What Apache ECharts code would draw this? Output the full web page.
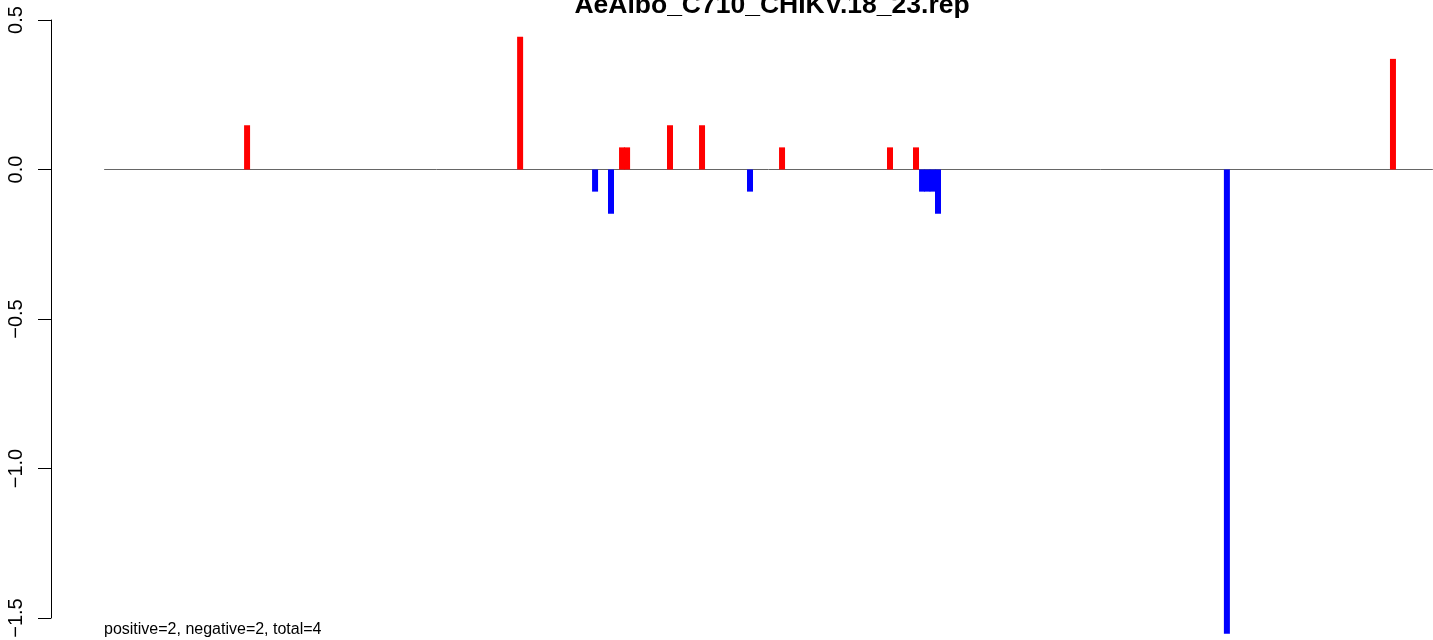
<!DOCTYPE html>
<html>
<head>
<meta charset="utf-8">
<script src="https://cdn.jsdelivr.net/npm/echarts@6/dist/echarts.min.js"></script>
<style>
html,body{margin:0;padding:0;background:#fff;}
#chart{width:1433px;height:640px;}
</style>
</head>
<body>
<div id="chart"></div>
<script>
// Genome length (nt) and observed positions/values
const genomeLength = 11826;
const positions = [1273, 3703, 4370, 4512, 4610, 4655, 5037, 5322, 5749, 6034, 6995, 7226, 7280, 7327, 7374, 7422, 9993, 11471];
const values    = [0.148, 0.444, -0.074, -0.148, 0.074, 0.074, 0.148, 0.148, -0.074, 0.074, 0.074, 0.074, -0.074, -0.074, -0.074, -0.148, -1.553, 0.370];
const yTicks = [-1.5, 0.5, 0.5]; // min, max, interval
const titleText = 'AeAlbo_C710_CHIKV.18_23.rep';
const footText = 'positive=2, negative=2, total=4';

const pad = 0.04 * (genomeLength - 1);
const barData = positions.map((p, i) => [p, values[i]]);

const chart = echarts.init(document.getElementById('chart'), null, {renderer: 'canvas'});
const FONT = '"Liberation Sans", Arial, Helvetica, sans-serif';
chart.setOption({
  animation: false,
  backgroundColor: '#ffffff',
  title: {
    text: titleText,
    left: 767, top: -13,
    textAlign: 'center',
    textStyle: {fontFamily: FONT, fontWeight: 'bold', fontSize: 26.5, color: '#000'}
  },
  grid: {left: 51, right: -53, top: 20, bottom: 22, containLabel: false, outerBoundsMode: 'none'},
  xAxis: {
    type: 'value', min: 1 - pad, max: genomeLength + pad, show: false
  },
  yAxis: {
    type: 'value', min: yTicks[0], max: yTicks[1], interval: yTicks[2],
    axisLine: {show: true, onZero: false, lineStyle: {color: '#000', width: 1}},
    axisTick: {show: true, length: 13, lineStyle: {color: '#000', width: 1}},
    splitLine: {show: false},
    axisLabel: {
      rotate: 90, margin: 25, color: '#000', fontSize: 20, fontFamily: FONT,
      formatter: v => (v < 0 ? '\u2212' : '') + Math.abs(v).toFixed(1)
    }
  },
  graphic: [{
    type: 'text', left: 104, top: 622,
    style: {text: footText, fill: '#000', font: '16px ' + FONT}
  }],
  series: [
    {
      type: 'line', data: [[1, 0], [genomeLength, 0]], symbol: 'none', silent: true,
      lineStyle: {color: '#666666', width: 1}, z: 1
    },
    {
      type: 'bar', data: barData, barWidth: 6, clip: false, z: 2,
      itemStyle: {color: p => (p.value[1] >= 0 ? '#ff0000' : '#0000ff')}
    }
  ]
});
</script>
</body>
</html>
